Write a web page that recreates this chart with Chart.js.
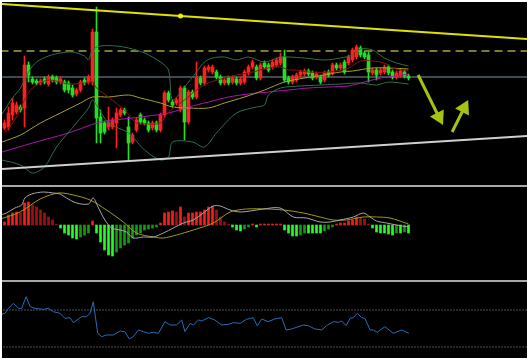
<!DOCTYPE html>
<html>
<head>
<meta charset="utf-8">
<script src="https://cdn.jsdelivr.net/npm/chart.js@4.4.1/dist/chart.umd.min.js"></script>
<style>
  html, body { margin: 0; padding: 0; background: #fff; }
  #frame { position: absolute; left: 2px; top: 2px; width: 525px; height: 356px; background: #000; overflow: hidden; }
  canvas { position: absolute; left: 0; }
  .sep { position: absolute; left: 0; width: 525px; height: 2px; background: #a8a8a8; }
</style>
</head>
<body>
<div id="frame">
  <canvas id="main" width="525" height="184" style="top:0"></canvas>
  <div class="sep" style="top:183px"></div>
  <canvas id="macd" width="525" height="93" style="top:185px"></canvas>
  <div class="sep" style="top:278px"></div>
  <canvas id="osc" width="525" height="76" style="top:280px"></canvas>
</div>
<script>
// Dados das velas (abertura, máxima, mínima, fechamento)
const open = [58,59,71,74,79,78,121,107,105,103, 107,102,109,108,104,104,103,98,92,96,
  106,104,104,154,69,63,59,59,63,71, 76,59,44,56,71,66,63,58,63,56,
  71,93,84,83,76,98,64,94,89,108, 103,116,114,114,109,103,108,104,107,103,
  104,113,119,119,108,123,121,119,121,123, 129,108,104,106,111,112,115,113,109,109,
  106,114,113,121,118,124,123,126,129,138, 133,131,113,116,113,114,119,114,109,111, 114,110];
const high = [66,79,88,84,81,130,124,109,107,107, 109,111,111,110,109,106,105,101,98,106,
  108,111,157,179,76,65,79,68,78,78, 78,69,53,68,73,68,65,65,65,73,
  95,95,86,88,100,100,96,96,124,110, 120,121,121,116,111,108,110,110,109,109,
  116,121,126,121,123,125,123,126,128,133, 136,110,111,113,116,117,117,115,114,111,
  115,116,123,123,123,126,131,138,141,140, 135,134,118,118,118,121,121,116,115,117, 116,112];
const low = [56,56,66,72,74,59,104,102,101,101, 102,100,104,102,102,94,93,89,90,94,
  101,102,101,43,43,52,56,57,38,69, 71,26,42,54,62,61,54,56,54,54,
  69,84,79,81,74,46,62,87,87,101, 101,114,112,107,101,101,101,102,101,101,
  102,111,117,106,106,117,114,117,119,121, 104,102,102,104,109,110,110,106,107,102,
  104,109,111,116,116,112,121,124,127,129, 127,104,111,106,111,112,111,107,107,109, 108,106];
const close = [63,73,83,81,76,121,111,104,103,105, 104,109,106,104,107,96,96,91,96,104,
  103,109,154,68,53,54,64,66,73,76, 73,43,51,66,64,63,56,63,56,71,
  93,86,81,86,98,64,94,89,108,103, 118,119,119,109,103,106,103,108,103,107,
  114,119,124,108,121,119,116,124,126,129, 106,104,109,111,114,115,112,108,112,104,
  113,111,121,118,121,114,129,136,139,131, 129,114,116,111,116,119,113,109,113,115, 110,108];

// Indicadores do gráfico principal [índice, valor]
const bbUpper = [[-0.6,72],[2,88],[4,98],[6,114],[8,124],[11,130],[14,133],[17,134],[20,130],[21,126],
  [22,136],[24,140],[28,140],[31,138],[35,133],[39,124],[41,116],[42,86],[45,99],[48,114],
  [50,124],[52,128],[55,129],[58,126],[61,129],[65,124],[69,129],[71,129],[75,128],[80,126],
  [84,128],[87,131],[89,137],[92,136],[95,128],[98,123],[101,120]];
const bbLower = [[-0.6,26],[4,21],[7,13],[10,19],[13,39],[18,63],[21,78],[22,86],[23,81],[26,63],
  [31,53],[35,36],[39,26],[41,29],[42,44],[47,44],[50,39],[53,53],[58,73],[63,79],
  [65,81],[66,91],[69,98],[74,100],[79,101],[84,102],[89,103],[93,101],[96,104],[101,102]];
const bbMiddle = [[0,53],[3,69],[5,86],[7,98],[11,106],[16,102],[20,103],[22,104],[23,98],[26,89],
  [30,76],[33,63],[36,62],[39,63],[41,74],[45,86],[48,96],[51,103],[55,108],[58,111],
  [61,113],[66,118],[69,119],[71,116],[73,116],[76,114],[81,114],[86,118],[89,125],[92,125],
  [95,123],[97,118],[101,115]];
const maYellow = [[-0.6,44],[4,51],[9,63],[14,73],[19,83],[22,89],[26,89],[31,91],[34,88],[39,83],
  [42,79],[46,78],[51,78],[55,83],[60,89],[65,96],[70,104],[75,108],[80,111],[84,114],
  [87,115],[92,118],[96,118],[101,117]];
const maMagenta = [[-0.6,34],[7,43],[16,53],[24,64],[32,68],[41,73],[46,79],[51,84],[56,89],[61,92],
  [66,94],[71,96],[76,98],[81,99],[86,100],[90,104],[94,108],[98,110],[101,112]];

// Linhas desenhadas à mão
const trendTop = [[-1,182],[44,170],[131,147]];
const trendBottom = [[-1,17],[131,50]];
const resistance = [[-1,135],[131,135]];
const pivot = [[-1,109],[131,109]];
const arrowDown = [[103.4,111],[108.6,69]];
const arrowUp = [[111.9,54],[114.9,78]];

// MACD
const histogram = [3,10,12,13,12,22,23,20,18,15, 12,8,5,0.5,-3,-8,-10,-13,-14,-12,
  -10,-8,4,-8,-17,-25,-30,-31,-27,-23, -20,-18,-13,-10,-8,-5,-4,-3,-2,2,
  12,13,14,13,18,8,12,12,13,13, 15,18,19,15,8,3,0.5,-2,-5,-6,
  -4,-2,1,-2,1,1,1,1,1,1, -5,-8,-11,-11,-10,-8,-8,-8,-8,-8,
  -6,-4,-2,1,2,2,4,5,8,7, 6,1,-3,-7,-8,-8,-9,-10,-8,-8, -7,-8];
const macdLine = [[-1,10],[0.5,12],[2.6,17],[4.3,20],[5.1,27],[6.8,31],[9.7,33],[12.2,32],[13.9,31],[15.5,27],
  [18,22],[21,21],[22.2,27],[23.5,17],[25.1,5],[26.8,-3],[28.9,-5],[30.5,-7],[32.2,-13],[34.7,-12],
  [37.2,-12],[39.7,-8],[42.2,-3],[44.7,2],[47.2,5],[49.7,12],[52.2,19],[53.9,19],[56.4,15],[58.9,13],
  [61.4,14],[64.7,16],[68.9,17],[72.2,8],[75.5,7],[78.9,3],[81.4,3],[83.9,5],[87.2,8],[89.7,12],
  [91.4,8],[93,4],[95.5,2],[98,0],[101,-2]];
const signalLine = [[-1,6],[3.9,13],[8.9,26],[13.5,32],[17.2,30],[21.4,25],[25.5,15],[29.7,3],[33,-8],[37.2,-12],
  [39.7,-13],[43,-10],[47.2,-5],[52.2,2],[56.4,13],[60.5,16],[65.5,16],[69.7,15],[74.7,12],[78.9,8],
  [82.2,5],[85.5,5],[89.7,8],[93,8],[96.4,7],[101,1]];

// Oscilador inferior
const oscLine = [[-0.7,65.4],[0.1,66.4],[1,71.8],[2.2,77.2],[3.5,71.8],[4.3,71.8],[5.4,84.4],[6.4,73.6],[7.6,71.8],[9.7,70.7],
  [11,71.8],[12.2,68.2],[13.9,66.4],[15.1,61],[16.4,61.7],[17.2,56.3],[19.3,62.8],[20.5,62.8],[21.4,66.4],[22.2,79],
  [23.3,44.8],[24.3,41.2],[25.5,43],[27.2,43],[28.9,47.3],[30.1,46.6],[31.2,38.7],[32.2,41.2],[33.5,48.4],[34.7,46.6],
  [36,44.8],[37.2,45.9],[38.5,44.8],[40.1,57.4],[41.4,53.8],[43,53.8],[44.3,59.2],[45.1,46.6],[46.4,55.6],[47.2,53.8],
  [48.5,59.2],[49.3,58.1],[51,61.7],[52.6,59.2],[54.3,53.8],[55.9,54.5],[57.2,56.3],[58.9,55.6],[60.5,59.9],[62.2,61.7],
  [63.2,53],[64.3,60.3],[65.9,57.4],[67.6,60.3],[69.3,61.7],[70.4,48.4],[71.8,49.5],[74.7,53.8],[76,53],[77.6,49.5],
  [79.3,48.4],[80.5,53],[82.2,57.4],[83.5,56.7],[84.3,58.1],[85.4,53],[86.4,61],[87.2,61.7],[88.2,66.4],[89.3,61.7],
  [90.1,61],[91.4,48.4],[92.2,48.4],[93.2,45.9],[95.1,52],[97.2,44.8],[99.3,48.4],[101.1,44.8]];
const oscLevels = [70, 30];

// Escala horizontal: 4 px por vela
const xMin = -0.625;
const xMax = 130.625;

const UP = '#ff2020';
const DOWN = '#22e022';

const pts = arr => arr.map(([x, y]) => ({ x, y }));

function line(data, color, width, extra) {
    return Object.assign({
        type: 'line',
        data: pts(data),
        borderColor: color,
        borderWidth: width,
        pointRadius: 0,
        tension: 0.3,
        fill: false,
        order: 1
    }, extra || {});
}

function baseOptions(yMin, yMax) {
    return {
        responsive: false,
        animation: false,
        devicePixelRatio: 1,
        layout: { padding: 0, autoPadding: false },
        events: [],
        plugins: { legend: { display: false }, tooltip: { enabled: false } },
        scales: {
            x: { type: 'linear', min: xMin, max: xMax, display: false, offset: false },
            y: { type: 'linear', min: yMin, max: yMax, display: false }
        }
    };
}

// Gráfico principal
const candleColors = close.map((c, i) => c >= open[i] ? UP : DOWN);

new Chart(document.getElementById('main').getContext('2d'), {
    type: 'bar',
    data: {
        datasets: [
            line(arrowDown, '#a4c414', 3, { tension: 0, order: 0, pointStyle: 'triangle',
                pointRadius: [0, 6], pointRotation: [0, 153], pointBackgroundColor: '#a4c414', pointBorderColor: '#a4c414' }),
            line(arrowUp, '#a4c414', 3, { tension: 0, order: 0, pointStyle: 'triangle',
                pointRadius: [0, 6], pointRotation: [0, 27], pointBackgroundColor: '#a4c414', pointBorderColor: '#a4c414' }),
            line(trendTop, '#e2e200', 2, { tension: 0, order: 0, pointRadius: [0, 2.5, 0],
                pointBackgroundColor: '#f0f000', pointBorderWidth: 0 }),
            line(trendBottom, '#cfcfcf', 2, { tension: 0, order: 0 }),
            line(bbUpper, '#2f704c', 1),
            line(bbLower, '#2f704c', 1),
            line(bbMiddle, '#8e1414', 1),
            line(maYellow, '#a8a420', 1),
            line(maMagenta, '#b014b0', 1),
            {
                type: 'bar',
                data: open.map((o, i) => ({ x: i, y: [o, close[i]] })),
                backgroundColor: candleColors,
                barThickness: 3,
                grouped: false,
                borderWidth: 0,
                order: 3
            },
            {
                type: 'bar',
                data: low.map((l, i) => ({ x: i, y: [l, high[i]] })),
                backgroundColor: candleColors,
                barThickness: 1,
                grouped: false,
                borderWidth: 0,
                order: 4
            },
            line(resistance, '#7c7c2c', 2, { tension: 0, order: 5, borderDash: [8, 5] }),
            line(pivot, '#414950', 2, { tension: 0, order: 5 })
        ]
    },
    options: baseOptions(0, 184)
});

// MACD
const histColors = histogram.map((v, i) => {
    const prev = i > 0 ? histogram[i - 1] : v;
    if (v >= 0) return v >= prev ? '#ff1a1a' : '#a01010';
    return v <= prev ? '#22ff22' : '#129a12';
});

new Chart(document.getElementById('macd').getContext('2d'), {
    type: 'bar',
    data: {
        datasets: [
            line(macdLine, '#a8a8a8', 1, { order: 0 }),
            line(signalLine, '#a09c14', 1, { order: 1 }),
            {
                type: 'bar',
                data: histogram.map((v, i) => ({ x: i, y: v })),
                backgroundColor: histColors,
                barThickness: 2,
                grouped: false,
                borderWidth: 0,
                order: 3
            }
        ]
    },
    options: baseOptions(-55, 38)
});

// Oscilador
new Chart(document.getElementById('osc').getContext('2d'), {
    type: 'line',
    data: {
        datasets: [
            line(oscLine, '#2a6cb5', 1, { tension: 0, order: 0 }),
            ...oscLevels.map(lv => line([[-1, lv], [131, lv]], '#9a9a9a', 1,
                { tension: 0, order: 2, borderDash: [1, 2] }))
        ]
    },
    options: baseOptions(18.11, 100.27)
});
</script>
</body>
</html>
